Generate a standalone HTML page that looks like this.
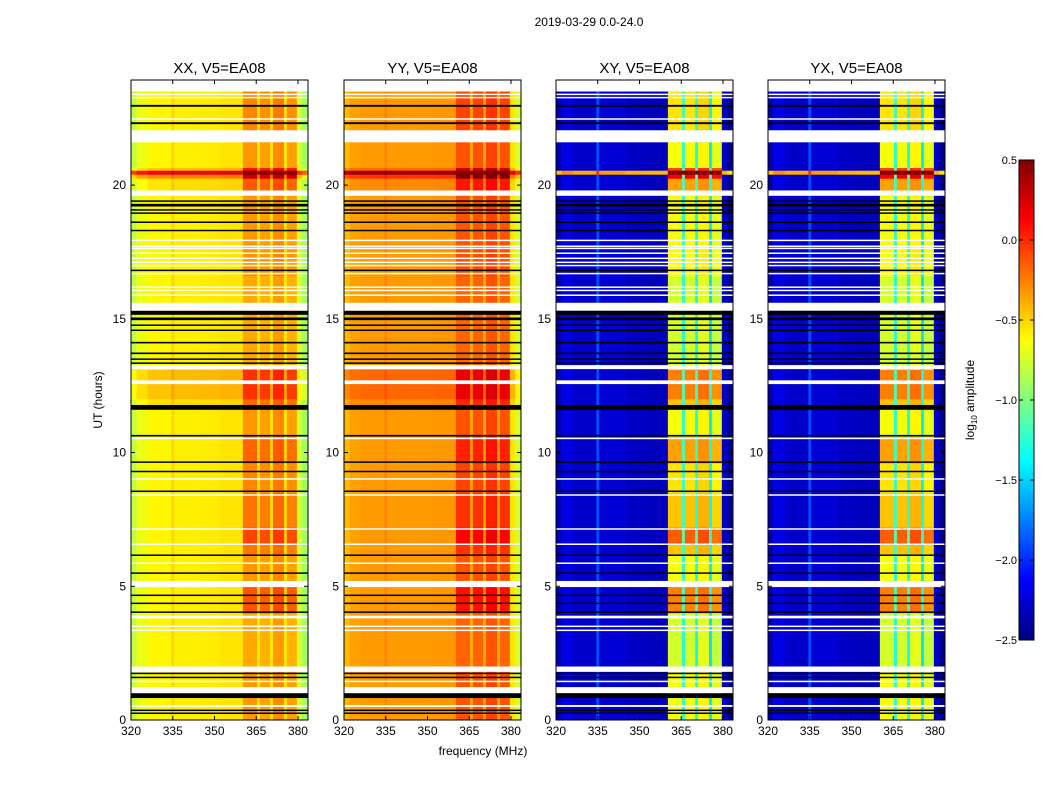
<!DOCTYPE html>
<html><head><meta charset="utf-8"><style>
body{margin:0;background:#fff;width:1050px;height:800px;overflow:hidden}
svg{font-family:"Liberation Sans",sans-serif}
</style></head><body>
<svg id="fig" width="1050" height="800" viewBox="0 0 1050 800">
<text x="589" y="26" font-size="12" text-anchor="middle">2019-03-29 0.0-24.0</text>
<text x="483" y="755" font-size="12" text-anchor="middle">frequency (MHz)</text>
<text x="0" y="0" font-size="12" text-anchor="middle" transform="translate(102,400) rotate(-90)">UT (hours)</text>
<text x="0" y="0" font-size="12" text-anchor="middle" transform="translate(974,400) rotate(-90)">log<tspan font-size="8" dy="3">10</tspan><tspan dy="-3"> amplitude</tspan></text>
<g id="panels"></g>
<g id="cbar"></g>
</svg>
<script>
// ---- data ----
const panelNames = ["XX, V5=EA08","YY, V5=EA08","XY, V5=EA08","YX, V5=EA08"];
const freqEdges = [320,322,326,334.5,335.5,345,352,360.2,365.3,366.3,370,371,375,376,379.6,381.5,383.6];
const baseXX = [-0.8,-0.68,-0.6,-0.5,-0.58,-0.57,-0.55,-0.42,-0.58,-0.45,-0.58,-0.38,-0.58,-0.45,-0.75,-0.9];
const baseYY = [-0.42,-0.35,-0.33,-0.27,-0.33,-0.33,-0.32,-0.22,-0.4,-0.22,-0.4,-0.17,-0.38,-0.22,-0.55,-0.75];
const baseXY = [-2.35,-2.2,-2.28,-1.9,-2.25,-2.3,-2.32,-0.85,-1.35,-0.85,-1.4,-0.8,-1.5,-0.9,-2.3,-2.45];
const baseYX = [-2.35,-2.2,-2.28,-1.9,-2.25,-2.3,-2.32,-0.85,-1.35,-0.85,-1.4,-0.8,-1.5,-0.9,-2.3,-2.45];
const rfiWeight = [0,0,0,0,0,0,0,1,0.3,1,0.3,1,0.3,1,0,0];
const timeStart = [0,2.0,4.0,5.0,6.2,6.6,7.2,8.5,9.6,10.6,11.6,12.0,13.1,14.9,15.3,16.6,17.6,19.6,20.25,20.4,20.55,20.65,21.6,22.0];
const timeEnd   = [2.0,4.0,5.0,6.2,6.6,7.2,8.5,9.6,10.6,11.6,12.0,13.1,14.9,15.3,16.6,17.6,19.6,20.25,20.4,20.55,20.65,21.6,22.0,23.5];
const rfiBoost  = [0.1,0.05,0.3,0.1,0.2,0.35,0.2,0.15,0.25,0.1,0.2,0.3,0.05,0.05,0.05,0.12,0.1,0.25,0.5,0.8,0.4,0.1,0.15,0.15];
const bbBoost   = [0,0,0,0,0,0,0,0,0,0,0.05,0.15,0,0,0,0,0,0.05,0.3,0.75,0.15,0,0,0];
const bbCross   = [0,0,0,0,0,0,0,0,0,0,0,0,0,0,0,0,0,0,0,1.9,0,0,0,0];
const rfiScale = [1,1,2,2];
const whiteFlags = [[23.38,23.42],[23.25,23.3],[22.45,22.5],[21.6,22.05],[19.6,19.8],[17.92,17.96],[17.7,17.74],[17.62,17.66],[17.44,17.48],[17.25,17.29],[17.1,17.14],[16.98,17.02],[16.68,16.72],[16.17,16.21],[16.05,16.09],[15.87,15.91],[15.3,15.6],[13.12,13.27],[12.56,12.7],[10.5,10.56],[9.0,9.04],[8.4,8.44],[7.13,7.17],[6.56,6.6],[5.85,5.89],[4.97,5.2],[3.8,3.9],[3.5,3.53],[3.35,3.38],[1.8,2.0],[1.43,1.47],[1.0,1.23],[0.49,0.56]];
const blackFlags = [[22.93,23.0],[22.28,22.35],[19.38,19.43],[19.2,19.3],[19.05,19.1],[18.95,18.98],[18.6,18.64],[18.3,18.33],[16.8,16.84],[15.15,15.3],[14.95,15.05],[14.75,14.79],[14.56,14.6],[14.08,14.14],[13.68,13.74],[13.48,13.52],[13.33,13.37],[11.6,11.78],[10.6,10.66],[9.63,9.67],[9.28,9.32],[8.53,8.58],[6.15,6.19],[5.48,5.52],[4.65,4.69],[4.35,4.39],[4.02,4.06],[1.73,1.77],[1.58,1.62],[0.82,1.0],[0.35,0.39],[0.24,0.28]];
const xTicks = [320,335,350,365,380];
const yTicks = [0,5,10,15,20];
const cbTicks = [0.5,0.0,-0.5,-1.0,-1.5,-2.0,-2.5];
const bases = [baseXX,baseYY,baseXY,baseYX];
// ---- scales ----
const NS="http://www.w3.org/2000/svg";
const panelX=[131,344,556,768], PW=177, PT=80, PB=720;
const vmin=-2.5, vmax=0.5;
function yS(h){return PB-(h/23.93)*(PB-PT);}
function xS(p,f){return panelX[p]+(f-320)/(383.6-320)*PW;}
function jet(v){let x=(v-vmin)/(vmax-vmin);x=Math.max(0,Math.min(1,x));
 const c=t=>Math.round(255*Math.max(0,Math.min(1,1.5-Math.abs(t))));
 return `rgb(${c(4*x-3)},${c(4*x-2)},${c(4*x-1)})`;}
function mk(tag,attrs,parent){const e=document.createElementNS(NS,tag);for(const k in attrs)e.setAttribute(k,attrs[k]);parent.appendChild(e);return e;}
const G=document.getElementById('panels');
for(let p=0;p<4;p++){
 const g=mk('g',{},G);
 
 
 for(let t=0;t<timeStart.length;t++){
  for(let f=0;f<freqEdges.length-1;f++){
   const bb = p<2 ? bbBoost[t] : bbCross[t];
   const v=bases[p][f]+rfiWeight[f]*rfiBoost[t]*rfiScale[p]+bb*(1-rfiWeight[f]*0.3);
   const x0=xS(p,freqEdges[f]),x1=xS(p,freqEdges[f+1]),y0=yS(timeEnd[t]),y1=yS(timeStart[t]);
   const r=mk('rect',{x:x0,y:y0,width:x1-x0+0.3,height:y1-y0+0.3,fill:jet(v)},g);
   
   
  }
 }
 for(const w of whiteFlags){
  const r=mk('rect',{x:panelX[p],y:yS(w[1]),width:PW,height:Math.max(1.5,yS(w[0])-yS(w[1])),fill:'#fff'},g);
  
  
 }
 for(const b of blackFlags){
  const r=mk('rect',{x:panelX[p],y:yS(b[1]),width:PW,height:Math.max(1.5,yS(b[0])-yS(b[1])),fill:'#000'},g);
  
  
 }
 const fr=mk('rect',{x:panelX[p],y:PT,width:PW,height:PB-PT,fill:'none',stroke:'#000','stroke-width':1},g);
 
 
 const tt=mk('text',{x:panelX[p]+PW/2,y:73,'font-size':15,'text-anchor':'middle'},g);
 tt.textContent=panelNames[p];
 
 
 for(const xt of xTicks){
  const x=xS(p,xt);
  mk('line',{x1:x,x2:x,y1:PB,y2:PB-4,stroke:'#000'},g);
  mk('line',{x1:x,x2:x,y1:PT,y2:PT+4,stroke:'#000'},g);
  const l=mk('text',{x:x,y:PB+15,'font-size':12,'text-anchor':'middle'},g);
  l.textContent=xt;
  
  
 }
 for(const yt of yTicks){
  const y=yS(yt);
  mk('line',{x1:panelX[p],x2:panelX[p]+4,y1:y,y2:y,stroke:'#000'},g);
  mk('line',{x1:panelX[p]+PW,x2:panelX[p]+PW-4,y1:y,y2:y,stroke:'#000'},g);
  const l=mk('text',{x:panelX[p]-5,y:y+4,'font-size':12,'text-anchor':'end'},g);
  l.textContent=yt;
  
  
 }
}
// colorbar
const C=document.getElementById('cbar');
const cx=1019,cw=15,cy0=160,cy1=640,N=120;
for(let i=0;i<N;i++){
 const v=vmin+(i+0.5)/N*(vmax-vmin);
 const r=mk('rect',{x:cx,y:cy1-(i+1)*(cy1-cy0)/N,width:cw,height:(cy1-cy0)/N+0.3,fill:jet(v)},C);
 
 
}
const cf=mk('rect',{x:cx,y:cy0,width:cw,height:cy1-cy0,fill:'none',stroke:'#000'},C);


for(const t of cbTicks){
 const y=cy1-(t-vmin)/(vmax-vmin)*(cy1-cy0);
 mk('line',{x1:cx+cw,x2:cx+cw-4,y1:y,y2:y,stroke:'#000'},C);
 mk('line',{x1:cx,x2:cx+4,y1:y,y2:y,stroke:'#000'},C);
 const l=mk('text',{x:cx-2,y:y+4,'font-size':11,'text-anchor':'end'},C);
 l.textContent=(t<0?'\u2212':'')+Math.abs(t).toFixed(1);
 
 
}
</script>
</body></html>
